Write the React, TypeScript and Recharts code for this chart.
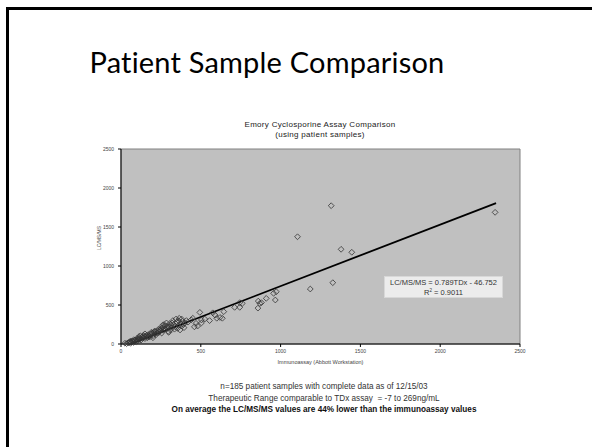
import React from 'react';
import { ScatterChart, Scatter, XAxis, YAxis, CartesianGrid, ReferenceArea, ReferenceLine } from 'recharts';

// immunoassay (x) vs LC/MS/MS (y), ng/mL
const clusterX = [25, 35, 45, 50, 55, 60, 65, 70, 75, 80, 85, 90, 95, 100, 100, 105, 110, 115, 120, 125, 130, 135, 140, 145, 150, 155, 160, 165, 170, 175, 180, 185, 190, 195, 200, 205, 210, 215, 220, 225, 230, 235, 240, 245, 250, 255, 260, 265, 270, 275, 280, 285, 290, 295, 300, 305, 310, 315, 320, 325, 330, 335, 340, 345, 350, 355, 360, 365, 370, 375, 380, 385, 390, 395, 400, 410, 420, 440, 450, 60, 80, 110, 140, 170, 190, 210, 230, 250, 270, 290, 320, 360, 380, 300, 200, 150, 120, 260];
const clusterY = [10, 5, 15, 20, 30, 10, 25, 40, 35, 20, 45, 50, 30, 55, 70, 40, 60, 80, 65, 50, 90, 75, 85, 100, 70, 95, 110, 80, 120, 100, 90, 130, 115, 140, 105, 150, 130, 160, 120, 145, 170, 190, 155, 180, 200, 140, 210, 175, 250, 230, 190, 270, 200, 160, 220, 260, 180, 240, 210, 300, 250, 190, 220, 320, 280, 200, 240, 330, 180, 260, 230, 290, 250, 210, 270, 300, 280, 310, 330, 35, 55, 90, 110, 95, 150, 165, 140, 175, 200, 230, 270, 300, 320, 150, 80, 130, 105, 240];
const midX = [460, 470, 480, 494, 504, 504, 525, 555, 575, 590, 600, 620, 635, 644, 712, 744, 744, 760, 858, 860, 870, 880, 910, 956, 967, 973];
const midY = [220, 265, 230, 405, 270, 308, 320, 300, 400, 370, 330, 340, 330, 415, 470, 530, 470, 520, 460, 550, 520, 530, 585, 650, 564, 670];
const highX = [1106, 1186, 1317, 1327, 1379, 1446, 2344];
const highY = [1375, 705, 1773, 786, 1214, 1176, 1688];

const ticks = [0, 500, 1000, 1500, 2000, 2500];
const gridValues = [500, 1000, 1500, 2000];
// trendline endpoints as drawn
const trendStart = { x: 60, y: 0 };
const trendEnd = { x: 2350, y: 1807 };

const toPoints = (xs: number[], ys: number[]) => xs.map((x, i) => ({ x, y: ys[i] }));
const samples = [
  ...toPoints(clusterX, clusterY),
  ...toPoints(midX, midY),
  ...toPoints(highX, highY),
];

const Diamond = (props: any) => {
  const { cx, cy } = props;
  const r = 2.9;
  return (
    <path
      d={`M${cx},${cy - r}L${cx + r},${cy}L${cx},${cy + r}L${cx - r},${cy}Z`}
      fill="none"
      stroke="#333"
      strokeWidth={0.8}
    />
  );
};

const axisFont = { fontFamily: 'Liberation Sans', fontSize: 5, fill: '#444' };

export default function App() {
  return (
    <div style={{ position: 'fixed', left: 0, top: 0, width: 592, height: 447, background: '#fff', overflow: 'hidden' }}>
      {/* slide frame */}
      <div style={{ position: 'absolute', left: 6, top: 7, width: 600, height: 460, border: '3px solid #000', boxSizing: 'border-box' }} />
      <div style={{ position: 'absolute', left: 0, width: 534, top: 44, textAlign: 'center', fontFamily: 'Lato', fontSize: 29, color: '#000', letterSpacing: 0.2 }}>
        Patient Sample Comparison
      </div>

      <div style={{ position: 'absolute', left: 0, top: 0 }}>
        <ScatterChart width={592} height={447} margin={{ top: 149, right: 72, bottom: 83, left: 97 }}>
          <ReferenceArea x1={0} x2={2500} y1={0} y2={2500} fill="#c0c0c0" fillOpacity={1} stroke="#808080" strokeWidth={1} />
          <CartesianGrid horizontal vertical={false} horizontalValues={gridValues} stroke="#000" strokeWidth={1} />
          <XAxis
            type="number"
            dataKey="x"
            domain={[0, 2500]}
            ticks={ticks}
            height={20}
            stroke="#000"
            tickSize={3}
            tick={axisFont}
            tickFormatter={(v) => `${v}`}
            label={{ value: 'Immunoassay (Abbott Workstation)', position: 'insideBottom', offset: 0, style: { ...axisFont, fontSize: 5.5 } }}
          />
          <YAxis
            type="number"
            dataKey="y"
            domain={[0, 2500]}
            ticks={ticks}
            width={24}
            stroke="#000"
            tickSize={3}
            tickMargin={4}
            tick={axisFont}
          />
          <ReferenceLine segment={[trendStart, trendEnd]} stroke="#000" strokeWidth={1.8} />
          <Scatter data={samples} shape={<Diamond />} isAnimationActive={false} />
        </ScatterChart>
      </div>

      <svg style={{ position: 'absolute', left: 0, top: 0 }} width={592} height={447} pointerEvents="none">
        <text x={101} y={238} transform="rotate(-90 101 238)" textAnchor="middle" fontFamily="Liberation Sans" fontSize={5} fill="#444">
          LC/MS/MS
        </text>
      </svg>

      <div style={{ position: 'absolute', left: 220, width: 200, top: 120, textAlign: 'center', fontFamily: 'Liberation Sans', fontSize: 8, lineHeight: '10px', color: '#222', letterSpacing: 0.3 }}>
        Emory Cyclosporine Assay Comparison<br />(using patient samples)
      </div>

      <div style={{ position: 'absolute', left: 384, top: 276, width: 119, height: 22, background: '#ececec', border: '1px solid #d8d8d8', boxSizing: 'border-box', textAlign: 'center', fontFamily: 'Liberation Sans', fontSize: 7.5, lineHeight: '9.5px', color: '#333', paddingTop: 1 }}>
        LC/MS/MS = 0.789TDx - 46.752<br />R<sup style={{ fontSize: 4.5, lineHeight: 0 }}>2</sup> = 0.9011
      </div>

      <div style={{ position: 'absolute', left: 124, width: 400, top: 381, textAlign: 'center', fontFamily: 'Liberation Sans', fontSize: 8.2, lineHeight: '11.5px', color: '#333' }}>
        n=185 patient samples with complete data as of 12/15/03<br />
        Therapeutic Range comparable to TDx assay&nbsp; = -7 to 269ng/mL<br />
        <span style={{ fontWeight: 'bold', color: '#111' }}>On average the LC/MS/MS values are 44% lower than the immunoassay values</span>
      </div>
    </div>
  );
}
